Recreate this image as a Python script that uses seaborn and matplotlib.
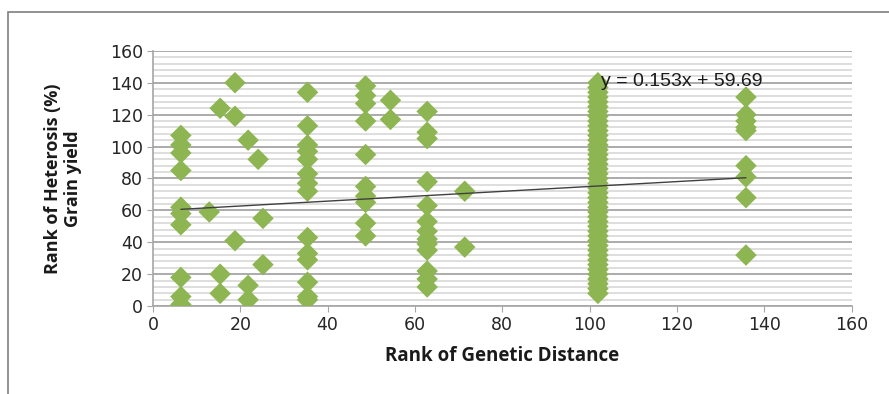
import numpy as np
import pandas as pd
import matplotlib.pyplot as plt
import seaborn as sns
from matplotlib.patches import Rectangle
from matplotlib.ticker import MultipleLocator

# ranks, grouped by column of genetic distance
col_x = [6.4, 12.9, 15.4, 18.8, 21.8, 24.1, 25.2, 35.4, 48.7, 54.4, 62.8, 71.4, 101.9, 135.8]
col_y = [
    [107, 101, 96, 85, 62, 58, 51, 18, 6, 1],
    [59],
    [124, 20, 8],
    [140, 119, 41],
    [104, 13, 4],
    [92],
    [55, 26],
    [134, 113, 101, 97, 92, 83, 77, 72, 43, 33, 29, 15, 6, 4],
    [138, 132, 127, 116, 95, 75, 69, 65, 52, 44],
    [129, 117],
    [122, 109, 105, 78, 63, 53, 47, 42, 39, 35, 22, 17, 12],
    [72, 37],
    [140, 137, 134, 131, 128, 125, 122, 119, 116, 113, 110, 107, 104, 101,
     98, 95, 92, 89, 86, 83, 80, 77, 74, 71, 68, 65, 62, 59, 56, 53, 50,
     47, 44, 41, 38, 35, 32, 29, 26, 23, 20, 17, 14, 11, 8],
    [131, 120, 116, 112, 110, 88, 81, 68, 32],
]
slope = 0.153
intercept = 59.69
eq_text = "y = 0.153x + 59.69"

rows = [(x, y) for x, ys in zip(col_x, col_y) for y in ys]
df = pd.DataFrame(rows, columns=["gd", "het"])

sns.set_style("white")
plt.rcParams["font.family"] = ["Liberation Sans Narrow", "DejaVu Sans"]
plt.rcParams["text.color"] = "#1a1a1a"

fig = plt.figure(figsize=(8.89, 3.94), dpi=100)
ax = fig.add_axes([0.172, 0.223, 0.786, 0.648])

# outer chart border
fig.patches.append(Rectangle((8 / 889, -0.1), 1.2, (394 - 12) / 394 + 0.1,
                             transform=fig.transFigure, fill=False,
                             edgecolor="#7f7f7f", linewidth=1.2))

ax.set_xlim(0, 160)
ax.set_ylim(0, 160)
ax.xaxis.set_major_locator(MultipleLocator(20))
ax.yaxis.set_major_locator(MultipleLocator(20))
ax.yaxis.set_minor_locator(MultipleLocator(4))
ax.grid(axis="y", which="major", color="#ababab", linewidth=1.4)
ax.grid(axis="y", which="minor", color="#d4d4d4", linewidth=1.1)
ax.set_axisbelow(True)

sns.scatterplot(data=df, x="gd", y="het", marker="D", s=120,
                color="#8db551", edgecolor="none", ax=ax, zorder=3)

# trend line from the equation shown on the chart
xs = np.array([min(col_x), max(col_x)])
ax.plot(xs, slope * xs + intercept, color="#404040", linewidth=1, zorder=4)
ax.text(102.5, 141, eq_text, fontsize=14, family=["Liberation Sans", "DejaVu Sans"],
        va="center", ha="left", zorder=5)

for side in ["top", "right"]:
    ax.spines[side].set_visible(False)
for side in ["left", "bottom"]:
    ax.spines[side].set_color("#a6a6a6")
    ax.spines[side].set_linewidth(1.2)
ax.tick_params(axis="both", which="major", direction="out", length=4,
               color="#a6a6a6", labelsize=12.5, pad=3, left=True, bottom=True,
               labelcolor="#262626")
ax.tick_params(axis="y", which="minor", length=0)

ax.set_xlabel("Rank of Genetic Distance", fontsize=13.5, fontweight="bold",
              family=["Open Sans", "DejaVu Sans"], labelpad=9, color="#1a1a1a")
ax.set_ylabel("Rank of Heterosis (%)\nGrain yield", fontsize=13, fontweight="bold",
              family=["Open Sans", "DejaVu Sans"], labelpad=20, linespacing=1.15,
              color="#1a1a1a")

fig.savefig("out.png", dpi=100)
